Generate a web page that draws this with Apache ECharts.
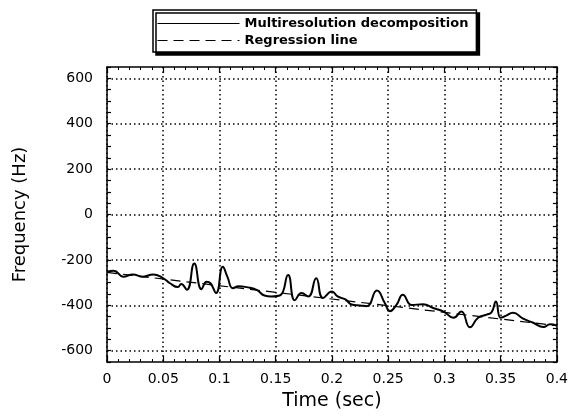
<!DOCTYPE html>
<html>
<head>
<meta charset="utf-8">
<script src="https://cdn.jsdelivr.net/npm/echarts@6/dist/echarts.min.js"></script>
<style>
  html, body { margin: 0; padding: 0; background: #fff; }
  #chart { width: 571px; height: 416px; }
</style>
</head>
<body>
<div id="chart"></div>
<script>
// multiresolution decomposition (time in sec, frequency in Hz)
const times = [0, 0.006, 0.0145, 0.023, 0.032, 0.041, 0.05, 0.056, 0.063, 0.066, 0.071, 0.0776, 0.084, 0.0886, 0.092, 0.097,
  0.103, 0.107, 0.112, 0.117, 0.124, 0.133, 0.140, 0.146, 0.154, 0.161, 0.167, 0.173, 0.179, 0.186, 0.192, 0.200,
  0.205, 0.212, 0.2175, 0.225, 0.231, 0.240, 0.247, 0.2516, 0.2575, 0.263, 0.271, 0.281, 0.290, 0.300, 0.308, 0.315,
  0.3227, 0.330, 0.3375, 0.342, 0.3458, 0.350, 0.3545, 0.361, 0.370, 0.379, 0.388, 0.394, 0.400];
const freqs = [-252, -248, -274, -264, -274, -264, -281, -303, -320, -306, -332, -216, -329, -296, -303, -346,
  -230, -274, -325, -316, -320, -332, -357, -361, -356, -267, -378, -346, -361, -281, -368, -339,
  -361, -374, -397, -401, -404, -335, -390, -426, -397, -354, -399, -395, -412, -430, -455, -428,
  -497, -455, -441, -430, -383, -455, -447, -433, -459, -477, -496, -484, -490];

// regression line end points
const regTimes = [0, 0.4];
const regFreqs = [-255, -490];

// y tick labels (grid lines drawn at these)
const yTicks = [-600, -400, -200, 0, 200, 400, 600];

const fontFamily = '"DejaVu Sans", sans-serif';

const curveData = times.map((t, i) => [t, freqs[i]]);
const regData = regTimes.map((t, i) => [t, regFreqs[i]]);

const axisLine = { show: true, onZero: false, lineStyle: { color: '#000', width: 1.5 } };
const dotted = { color: '#000', width: 1.5, type: [1.5, 3] };
const majorTick = { show: true, inside: true, length: 6, lineStyle: { color: '#000', width: 1.2 } };
const minorTick = { show: true, splitNumber: 5, length: 3, lineStyle: { color: '#000', width: 1 } };

let option = {
  animation: false,
  backgroundColor: '#fff',
  grid: { left: 107, right: 14, top: 67, bottom: 49 },
  legend: {
    data: ['Multiresolution decomposition', 'Regression line'],
    orient: 'vertical',
    left: 153,
    top: 10,
    itemWidth: 82,
    itemHeight: 14,
    itemGap: 4,
    padding: [7, 8, 5, 4],
    backgroundColor: '#fff',
    borderColor: '#000',
    borderWidth: 1.5,
    shadowColor: '#000',
    shadowBlur: 0,
    shadowOffsetX: 3,
    shadowOffsetY: 3,
    itemStyle: { opacity: 0, borderWidth: 0 },
    lineStyle: { width: 1 },
    textStyle: { color: '#000', fontSize: 13, fontWeight: 'bold', fontFamily: fontFamily }
  },
  xAxis: [
    {
      type: 'value',
      min: 0,
      max: 0.4,
      interval: 0.05,
      name: 'Time (sec)',
      nameLocation: 'middle',
      nameGap: 30,
      nameTextStyle: { color: '#000', fontSize: 19, fontFamily: fontFamily },
      axisLine: axisLine,
      axisTick: majorTick,
      minorTick: minorTick,
      axisLabel: { color: '#000', fontSize: 14, margin: 10, fontFamily: fontFamily },
      splitLine: { show: true, lineStyle: dotted }
    },
    {
      type: 'value',
      position: 'top',
      min: 0,
      max: 0.4,
      interval: 0.05,
      axisLine: axisLine,
      axisTick: majorTick,
      minorTick: minorTick,
      axisLabel: { show: false },
      splitLine: { show: false }
    }
  ],
  yAxis: [
    {
      type: 'value',
      min: -650,
      max: 650,
      interval: 50,
      name: 'Frequency (Hz)',
      nameLocation: 'middle',
      nameGap: 78,
      nameTextStyle: { color: '#000', fontSize: 18, fontFamily: fontFamily },
      axisLine: axisLine,
      axisTick: { show: true, inside: true, length: 4, lineStyle: { color: '#000', width: 1.2 } },
      axisLabel: {
        color: '#000', fontSize: 14, margin: 14, fontFamily: fontFamily,
        formatter: v => (yTicks.includes(Math.round(v)) ? String(Math.round(v)) : '')
      },
      splitLine: { show: false }
    },
    {
      type: 'value',
      position: 'right',
      min: -650,
      max: 650,
      interval: 50,
      axisLine: axisLine,
      axisTick: { show: true, inside: true, length: 4, lineStyle: { color: '#000', width: 1.2 } },
      axisLabel: { show: false },
      splitLine: { show: false }
    }
  ],
  series: [
    {
      name: 'Multiresolution decomposition',
      type: 'line',
      data: curveData,
      smooth: 0.5,
      symbol: 'none',
      lineStyle: { color: '#000', width: 2 },
      itemStyle: { color: '#000' },
      z: 5
    },
    {
      name: 'Regression line',
      type: 'line',
      data: regData,
      symbol: 'none',
      lineStyle: { color: '#000', width: 1.2, type: [10, 6] },
      itemStyle: { color: '#000' },
      markLine: {
        silent: true,
        symbol: 'none',
        label: { show: false },
        lineStyle: dotted,
        data: yTicks.map(v => ({ yAxis: v }))
      },
      z: 4
    }
  ]
};

let myChart = echarts.init(document.getElementById('chart'));
myChart.setOption(option);
</script>
</body>
</html>
